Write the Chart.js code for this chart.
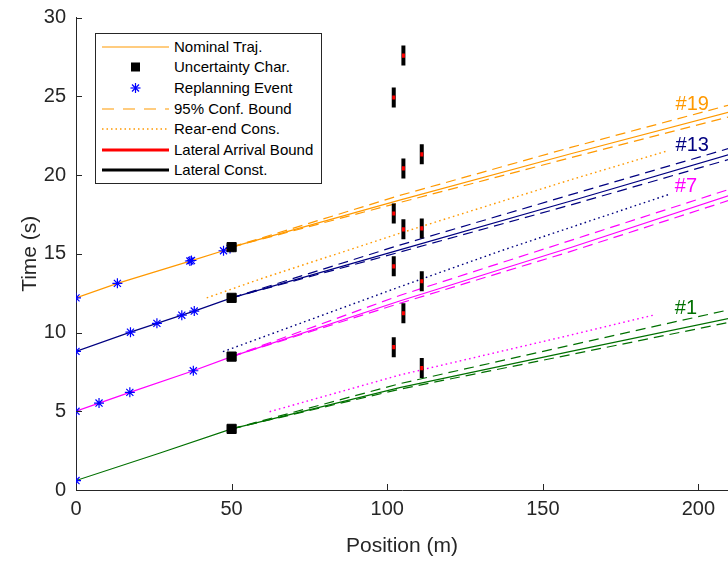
<!DOCTYPE html>
<html><head><meta charset="utf-8">
<script src="https://cdn.jsdelivr.net/npm/chart.js@4/dist/chart.umd.min.js"></script>
<style>
html,body{margin:0;padding:0;background:#fff;}
#wrap{position:relative;width:728px;height:563px;overflow:hidden;}
canvas{display:block}
#legend{position:absolute;left:95px;top:33px;width:225px;height:149px;border:1px solid #262626;background:#fff;font-family:"Liberation Sans",Arial,sans-serif;font-size:15px;color:#000;}
.row{position:absolute;left:0;width:225px;height:20px;}
.row svg{position:absolute;left:6px;top:0;}
.row span{position:absolute;left:78px;top:0;white-space:nowrap;line-height:20px;}
</style></head>
<body>
<div id="wrap"><canvas id="c" width="728" height="563"></canvas><div id="legend"></div></div>
<script>
// ---- tick labels ----
const xTicks = [0, 50, 100, 150, 200];
const yTicks = [0, 5, 10, 15, 20, 25, 30];

// ---- nominal trajectories (position m, time s) ----
const v19Pos  = [0, 13.3, 36.9, 47.3, 50, 104, 159, 210];
const v19Time = [12.2, 13.12, 14.55, 15.19, 15.42, 18.4, 21.35, 24.0];
const v13Pos  = [0, 17.5, 26, 34, 38, 50, 104, 159, 210];
const v13Time = [8.8, 10.02, 10.58, 11.1, 11.36, 12.2, 15.25, 18.35, 21.3];
const v7Pos   = [0, 7.4, 17.3, 37.7, 50, 104, 159, 210];
const v7Time  = [5.0, 5.52, 6.2, 7.57, 8.47, 12.0, 15.4, 18.7];
const v1Pos   = [0, 27, 50, 104, 159, 210];
const v1Time  = [0.6, 2.35, 3.88, 6.5, 8.8, 10.9];

// ---- 95% confidence bounds ----
const boundPos = [50, 104, 159, 210];
const v19Upper = [15.42, 18.7, 21.75, 24.45];
const v19Lower = [15.42, 18.25, 21.1, 23.7];
const v13Upper = [12.2, 15.55, 18.75, 21.7];
const v13Lower = [12.2, 15.1, 18.1, 21.0];
const v7Upper  = [8.47, 12.35, 15.85, 19.1];
const v7Lower  = [8.47, 11.85, 15.15, 18.4];
const v1Upper  = [3.88, 6.75, 9.2, 11.45];
const v1Lower  = [3.88, 6.4, 8.6, 10.65];

// ---- rear-end constraints ----
const rear19Pos  = [42, 60, 104, 159, 189.5];
const rear19Time = [12.2, 13.45, 16.3, 19.7, 21.5];
const rear13Pos  = [47.2, 104, 136, 191];
const rear13Time = [8.78, 12.9, 15.15, 18.8];
const rear7Pos   = [62.2, 104, 159, 185.5];
const rear7Time  = [4.97, 7.3, 9.84, 11.1];

// ---- uncertainty characterisation ----
const uncPos  = [50, 50, 50, 50];
const uncTime = [15.42, 12.2, 8.47, 3.88];

// ---- replanning events ----
const replanPos  = [0, 13.3, 36.6, 37.1, 47.4, 49.5, 0, 17.5, 26, 34, 38, 0, 7.4, 17.3, 37.7, 0];
const replanTime = [12.2, 13.12, 14.54, 14.57, 15.19, 15.34, 8.8, 10.02, 10.58, 11.1, 11.36, 5.0, 5.52, 6.2, 7.57, 0.6];

// ---- lateral constraints ----
const latPos  = [102.1, 102.1, 102.1, 102.1, 105.2, 105.2, 105.2, 105.2, 111.1, 111.1, 111.1, 111.1];
const latTime = [24.92, 17.56, 14.2, 9.07, 27.58, 20.42, 16.55, 11.22, 21.31, 16.61, 13.25, 7.74];
const latHalf = 0.635;
const arrHalf = 0.13;

// ---- vehicle labels ----
const vehNames = ['#19', '#13', '#7', '#1'];
const vehLabelPos = [198, 198, 196, 196];
const vehLabelTime = [24.45, 21.85, 19.25, 11.55];

const ORANGE = '#FF9900', NAVY = '#000080', MAG = '#FF00FF', GREEN = '#007000';
const FONT = '"Liberation Sans", Arial, Helvetica, sans-serif';

function pts(xs, ys) { return xs.map((x, i) => ({x: x, y: ys[i]})); }
function bars(xs, cs, h) {
  const out = [];
  xs.forEach((x, i) => { out.push({x: x, y: cs[i] - h}); out.push({x: x, y: cs[i] + h}); out.push({x: x, y: null}); });
  return out;
}
function line(data, color, extra) {
  return Object.assign({type: 'line', data: data, borderColor: color, backgroundColor: color,
    borderWidth: 1.2, pointRadius: 0, fill: false, tension: 0, order: 10}, extra || {});
}
const DASH = [10, 6], DOT = [1.6, 3.2];

const datasets = [
  line(pts(v19Pos, v19Time), ORANGE),
  line(pts(v13Pos, v13Time), NAVY),
  line(pts(v7Pos, v7Time), MAG),
  line(pts(v1Pos, v1Time), GREEN),
  line(pts(boundPos, v19Upper), ORANGE, {borderDash: DASH}),
  line(pts(boundPos, v19Lower), ORANGE, {borderDash: DASH}),
  line(pts(boundPos, v13Upper), NAVY, {borderDash: DASH}),
  line(pts(boundPos, v13Lower), NAVY, {borderDash: DASH}),
  line(pts(boundPos, v7Upper), MAG, {borderDash: DASH}),
  line(pts(boundPos, v7Lower), MAG, {borderDash: DASH}),
  line(pts(boundPos, v1Upper), GREEN, {borderDash: DASH}),
  line(pts(boundPos, v1Lower), GREEN, {borderDash: DASH}),
  line(pts(rear19Pos, rear19Time), ORANGE, {borderDash: DOT, borderWidth: 1.4}),
  line(pts(rear13Pos, rear13Time), NAVY, {borderDash: DOT, borderWidth: 1.4}),
  line(pts(rear7Pos, rear7Time), MAG, {borderDash: DOT, borderWidth: 1.4}),
  {type: 'line', data: pts(replanPos, replanTime), showLine: false, pointStyle: 'star', pointRadius: 5,
   borderColor: '#0000FF', backgroundColor: '#0000FF', pointBorderWidth: 1.2, order: 3},
  {type: 'line', data: pts(uncPos, uncTime), showLine: false, pointStyle: 'rect', pointRadius: 6.5,
   borderColor: '#000', backgroundColor: '#000', pointBorderWidth: 1, order: 2},
  line(bars(latPos, latTime, latHalf), '#000', {borderWidth: 4, spanGaps: false, borderCapStyle: 'butt', order: 1}),
  line(bars(latPos, latTime, arrHalf), '#FF0000', {borderWidth: 3, spanGaps: false, borderCapStyle: 'butt', order: 0})
];

const extras = {
  id: 'extras',
  afterDatasetsDraw(chart) {
    const ctx = chart.ctx, x = chart.scales.x, y = chart.scales.y, a = chart.chartArea;
    ctx.save();
    ctx.strokeStyle = '#262626'; ctx.lineWidth = 1;
    xTicks.forEach(v => { const px = Math.round(x.getPixelForValue(v)) + 0.5;
      ctx.beginPath(); ctx.moveTo(px, a.bottom); ctx.lineTo(px, a.bottom - 6); ctx.stroke(); });
    yTicks.forEach(v => { const py = Math.round(y.getPixelForValue(v)) + 0.5;
      ctx.beginPath(); ctx.moveTo(a.left, py); ctx.lineTo(a.left + 6, py); ctx.stroke(); });
    const cols = [ORANGE, NAVY, MAG, GREEN];
    ctx.font = '20px ' + FONT; ctx.textAlign = 'center'; ctx.textBaseline = 'middle';
    vehNames.forEach((n, i) => { ctx.fillStyle = cols[i];
      ctx.fillText(n, x.getPixelForValue(vehLabelPos[i]), y.getPixelForValue(vehLabelTime[i])); });
    ctx.restore();
  }
};

new Chart(document.getElementById('c'), {
  type: 'line',
  data: {datasets: datasets},
  options: {
    responsive: false, animation: false, devicePixelRatio: 1,
    layout: {autoPadding: false, padding: {top: 17.5, left: 0, right: 0, bottom: 0}},
    plugins: {legend: {display: false}, tooltip: {enabled: false}},
    scales: {
      x: {type: 'linear', min: 0, max: 209.5,
        afterBuildTicks: s => { s.ticks = xTicks.map(v => ({value: v})); },
        afterFit: s => { s.height = 73; },
        grid: {display: false, drawTicks: false}, border: {display: true, color: '#262626', width: 1},
        ticks: {color: '#262626', font: {size: 20, family: FONT}, padding: 7, maxRotation: 0},
        title: {display: true, text: 'Position (m)', color: '#262626', font: {size: 21, family: FONT}, padding: {top: 0, bottom: 4}}
      },
      y: {type: 'linear', min: 0, max: 30,
        afterBuildTicks: s => { s.ticks = yTicks.map(v => ({value: v})); },
        afterFit: s => { s.width = 76; },
        grid: {display: false, drawTicks: true, tickLength: 10}, border: {display: true, color: '#262626', width: 1},
        ticks: {color: '#262626', font: {size: 20, family: FONT}, padding: 0},
        title: {display: true, text: 'Time (s)', color: '#262626', font: {size: 21, family: FONT}, padding: {top: 18, bottom: 0}}
      }
    }
  },
  plugins: [extras]
});

// ---- legend (HTML) ----
const legendLabels = ['Nominal Traj.', 'Uncertainty Char.', 'Replanning Event', '95% Conf. Bound', 'Rear-end Cons.', 'Lateral Arrival Bound', 'Lateral Const.'];
const legendKinds = ['solid', 'square', 'star', 'dash', 'dot', 'red', 'black'];
function sample(kind) {
  const L = '<line x1="0" y1="10" x2="67" y2="10" ';
  switch (kind) {
    case 'solid': return L + 'stroke="' + ORANGE + '" stroke-width="1.2"/>';
    case 'square': return '<rect x="29" y="5.5" width="9" height="9" fill="#000"/>';
    case 'star': return '<g stroke="#0000FF" stroke-width="1.2"><line x1="28.5" y1="10" x2="38.5" y2="10"/><line x1="33.5" y1="5" x2="33.5" y2="15"/><line x1="30" y1="6.5" x2="37" y2="13.5"/><line x1="37" y1="6.5" x2="30" y2="13.5"/></g>';
    case 'dash': return L + 'stroke="' + ORANGE + '" stroke-width="1.2" stroke-dasharray="12 9"/>';
    case 'dot': return L + 'stroke="' + ORANGE + '" stroke-width="1.3" stroke-dasharray="1.5 3"/>';
    case 'red': return L + 'stroke="#FF0000" stroke-width="3"/>';
    case 'black': return L + 'stroke="#000" stroke-width="3"/>';
  }
}
const lg = document.getElementById('legend');
legendLabels.forEach((t, i) => {
  const r = document.createElement('div');
  r.className = 'row';
  r.style.top = (2.7 + i * 20.6) + 'px';
  r.innerHTML = '<svg width="67" height="20" viewBox="0 0 67 20">' + sample(legendKinds[i]) + '</svg><span></span>';
  r.querySelector('span').textContent = t;
  lg.appendChild(r);
});
</script>
</body></html>
